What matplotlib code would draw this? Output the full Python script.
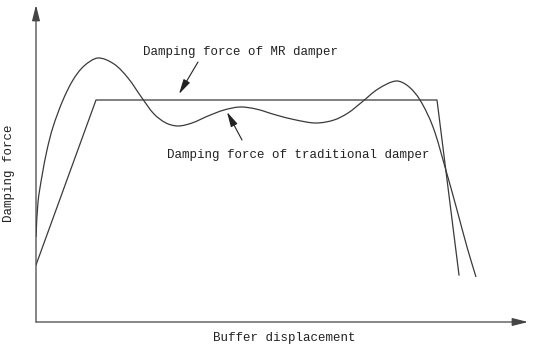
import numpy as np
import matplotlib
matplotlib.use("Agg")
import matplotlib.pyplot as plt
from matplotlib.path import Path
from matplotlib.patches import PathPatch

# ---- data (arbitrary units) ----
mr_x = [0, 60, 401, 423]
mr_y = [57, 222, 222, 47]

trad_x = [0, 2, 6, 11, 17, 27, 37, 48, 62, 78, 92, 106, 118, 130, 142, 156,
          172, 188, 204, 220, 240, 260, 280, 298, 312, 326, 342, 360, 372,
          384, 397, 409, 421, 431, 440]
trad_y = [85, 120, 146, 172, 195, 222, 242, 256, 264, 258, 244, 224, 208, 199,
          196, 199, 206, 212, 215, 213, 207, 202, 199, 202, 209, 220, 233, 241,
          236, 222, 195, 155, 112, 75, 45]

label_mr = "Damping force of MR damper"
label_trad = "Damping force of traditional damper"
xlabel = "Buffer displacement"
ylabel = "Damping force"

FONT = ["Liberation Mono", "DejaVu Sans Mono"]
LC = "#3a3a3a"

fig = plt.figure(figsize=(5.33, 3.47), dpi=100)
ax = fig.add_axes([36 / 533, 25 / 347, 492 / 533, 317 / 347])
ax.set_xlim(0, 492)
ax.set_ylim(0, 317)
ax.axis("off")

# MR damper trapezoid
ax.plot(mr_x, mr_y, color=LC, lw=0.9)

# traditional damper: smooth Bezier path through the read points
pts = np.column_stack([trad_x, trad_y]).astype(float)
n = len(pts)
verts = [tuple(pts[0])]
codes = [Path.MOVETO]
for i in range(n - 1):
    p0 = pts[i - 1] if i > 0 else pts[i]
    p1 = pts[i]
    p2 = pts[i + 1]
    p3 = pts[i + 2] if i + 2 < n else pts[i + 1]
    d01 = np.hypot(*(p1 - p0)) if i > 0 else np.hypot(*(p2 - p1))
    d12 = np.hypot(*(p2 - p1))
    d23 = np.hypot(*(p3 - p2)) if i + 2 < n else d12
    c1 = p1 + (p2 - p0) * d12 / (3.0 * (d01 + d12)) if i > 0 else p1 + (p2 - p1) / 3.0
    c2 = p2 - (p3 - p1) * d12 / (3.0 * (d12 + d23)) if i + 2 < n else p2 - (p2 - p1) / 3.0
    verts += [tuple(c1), tuple(c2), tuple(p2)]
    codes += [Path.CURVE4] * 3
ax.add_patch(PathPatch(Path(verts, codes), facecolor="none", edgecolor=LC, lw=0.9))

# axes with arrows
arrow_kw = dict(arrowstyle="-|>,head_length=0.95,head_width=0.24",
                mutation_scale=10, color="#444444", lw=0.9,
                shrinkA=0, shrinkB=0)
ax.annotate("", xy=(492, 0), xytext=(0, 0), arrowprops=arrow_kw, annotation_clip=False)
ax.annotate("", xy=(0, 317), xytext=(0, 0), arrowprops=arrow_kw, annotation_clip=False)

# annotations
ann_kw = dict(arrowstyle="-|>,head_length=0.9,head_width=0.22",
              mutation_scale=10, color="#222222", lw=0.8, shrinkA=0, shrinkB=0)
ax.text(107, 270, label_mr, family=FONT, fontsize=9, va="center", ha="left", color="#222222")
ax.annotate("", xy=(143, 228), xytext=(162, 260), arrowprops=ann_kw)
ax.text(131, 167, label_trad, family=FONT, fontsize=9, va="center", ha="left", color="#222222")
ax.annotate("", xy=(191, 210), xytext=(206, 182), arrowprops=ann_kw)

# axis labels
ax.text(248, -16, xlabel, family=FONT, fontsize=9, va="center", ha="center",
        color="#222222", clip_on=False)
ax.text(-27, 149, ylabel, family=FONT, fontsize=9, va="center", ha="center",
        rotation=90, color="#222222", clip_on=False)

fig.savefig("out.png", dpi=100, facecolor="white")
